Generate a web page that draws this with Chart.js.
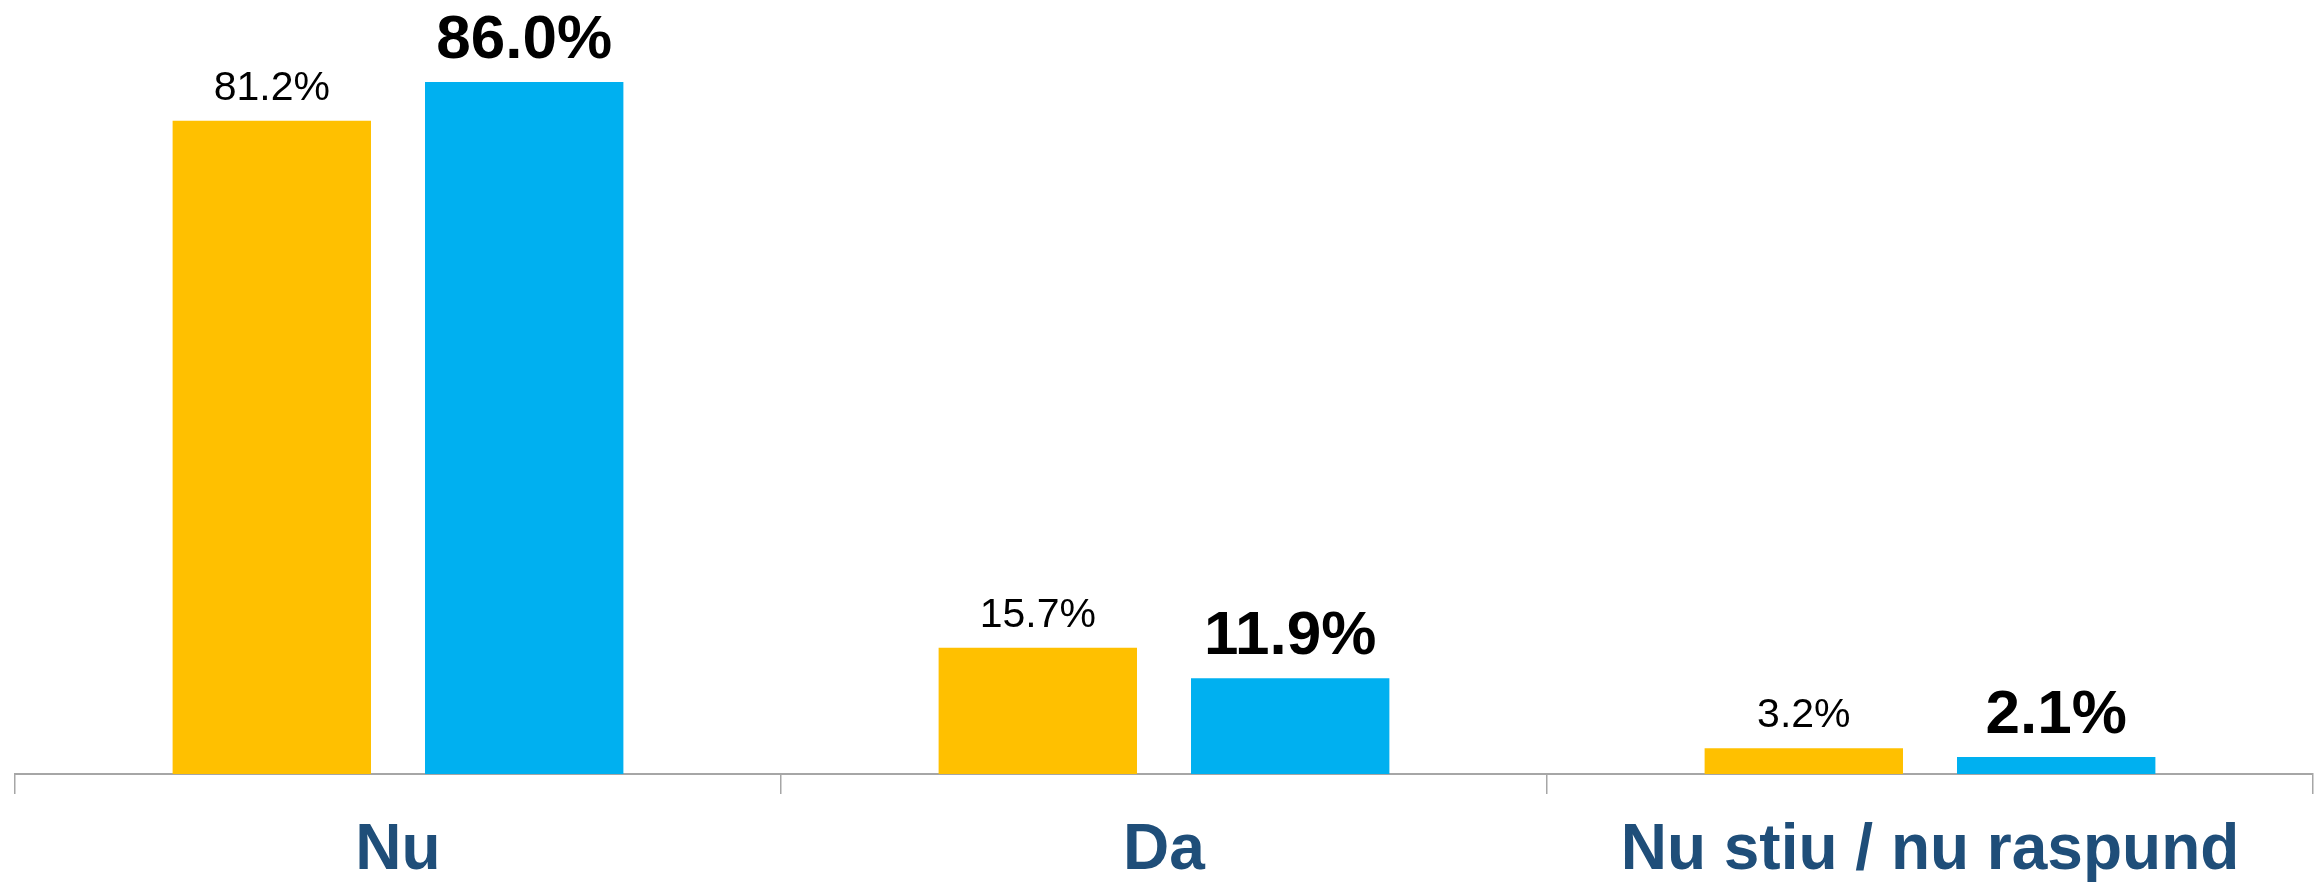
<!DOCTYPE html>
<html>
<head>
<meta charset="utf-8">
<title>Nu / Da</title>
<script src="https://cdn.jsdelivr.net/npm/chart.js@4/dist/chart.umd.min.js"></script>
<style>
  html, body { margin: 0; padding: 0; background: #ffffff; }
  #wrap { width: 2320px; height: 884px; }
</style>
</head>
<body>
<div id="wrap"><canvas id="chart" width="2320" height="884"></canvas></div>
<script>
// date
const categories = ['Nu', 'Da', 'Nu stiu / nu raspund'];
const previousValues = [81.2, 15.7, 3.2];
const currentValues = [86.0, 11.9, 2.1];

const YELLOW = '#FFC000';
const BLUE = '#00B0F0';
const FONT = 'Arial, "Liberation Sans", sans-serif';

// etichete deasupra barelor (fara plugin extern)
const valueLabels = {
    id: 'valueLabels',
    afterDatasetsDraw(chart) {
        const ctx = chart.ctx;
        ctx.save();
        ctx.textAlign = 'center';
        ctx.textBaseline = 'alphabetic';
        ctx.fillStyle = '#000000';
        chart.data.datasets.forEach((ds, i) => {
            const meta = chart.getDatasetMeta(i);
            const bold = i === 1;
            ctx.font = bold ? `bold 62px ${FONT}` : `41px ${FONT}`;
            const gap = bold ? 24 : 21;
            meta.data.forEach((bar, j) => {
                ctx.fillText(ds.data[j].toFixed(1) + '%', bar.x, bar.y - gap);
            });
        });
        ctx.restore();
    }
};

const ctx = document.getElementById('chart').getContext('2d');
new Chart(ctx, {
    type: 'bar',
    data: {
        labels: categories,
        datasets: [
            { label: 'Anterior', data: previousValues, backgroundColor: YELLOW },
            { label: 'Actual', data: currentValues, backgroundColor: BLUE }
        ]
    },
    options: {
        responsive: false,
        animation: false,
        categoryPercentage: 0.659,
        barPercentage: 0.786,
        layout: { padding: { left: 15, right: 7, top: 0, bottom: -24 } },
        plugins: {
            legend: { display: false },
            tooltip: { enabled: false }
        },
        scales: {
            y: { display: false, min: 0, max: 96.2 },
            x: {
                border: { display: true, color: '#A6A6A6', width: 2 },
                grid: {
                    offset: true,
                    drawOnChartArea: false,
                    drawTicks: true,
                    tickLength: 20,
                    color: '#A6A6A6',
                    lineWidth: 1.5
                },
                ticks: {
                    color: '#1F4E79',
                    padding: 25,
                    maxRotation: 0,
                    font: { family: FONT, size: 64, weight: 'bold', lineHeight: 1.0 }
                }
            }
        }
    },
    plugins: [valueLabels]
});
</script>
</body>
</html>
